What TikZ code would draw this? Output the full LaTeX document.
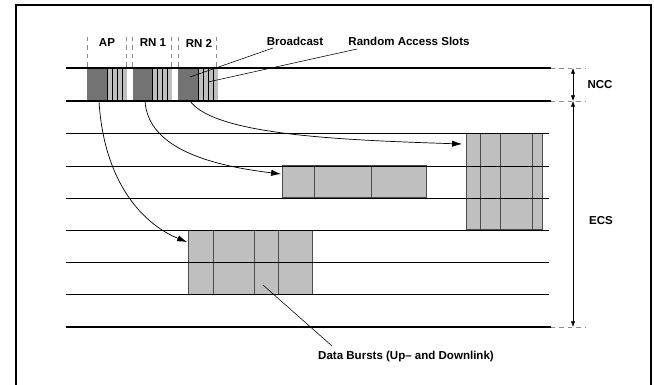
\documentclass[tikz,border=0pt]{standalone}
\usepackage{fontspec}
\setmainfont{Liberation Sans}
\usetikzlibrary{arrows.meta}
\colorlet{slot dark}{black!55}
\colorlet{slot light}{black!25}
\colorlet{burst area}{black!25}
\colorlet{burst edge}{black!70}
\def\ncctop{68}
\def\nccbot{101}
\def\ecsbot{327}
\tikzset{
  label/.style={font=\fontsize{8.2}{10}\selectfont\bfseries, inner sep=1pt},
  thickline/.style={line width=1.6pt},
  thinline/.style={line width=0.6pt},
  extension/.style={dashed, draw=black!45, line width=0.4pt},
  burst/.style={fill=burst area, draw=burst edge, line width=0.6pt},
  hop/.style={-{Latex[length=7pt,width=4.5pt]}, line width=0.5pt},
  span/.style={{Latex[length=4pt,width=3pt]}-{Latex[length=4pt,width=3pt]}, line width=0.4pt},
  leader/.style={line width=0.4pt}
}

\begin{document}
\begin{tikzpicture}[x=0.025cm, y=-0.025cm]
    \useasboundingbox (0,0) rectangle (654,384);
    \draw[line width=0.8pt] (16,390) |- (651,5) -- (651,390);
    % slot areas in the NCC
    \foreach \name/\xa/\xb in {ap/87/107, rnone/133/152, rntwo/178/198} {
      \fill[slot light] (\xb,\ncctop) rectangle ++(20,33);
      \foreach \k in {5,10,15} \draw[line width=0.5pt] (\xb+\k,\ncctop) -- ++(0,33);
      \fill[slot dark] (\xa,\ncctop) rectangle (\xb,\nccbot);
      \draw[line width=0.6pt] (\xb,\ncctop) -- (\xb,\nccbot);
      \coordinate (\name) at (\xa+12,\nccbot);
    }
    \foreach \x in {87,126,132,171,178,216} \draw[extension] (\x,37) -- (\x,\ncctop);
    \node[label] (aplabel) at (107,43) {AP};
    \node[label] (rnonelabel) at (153,43) {RN 1};
    \node[label] (rntwolabel) at (199,43) {RN 2};
    % data bursts in the ECS
    \fill[burst] (466,133) rectangle (542,229);
    \foreach \x in {480,500,532} \draw[burst edge, thinline] (\x,133) -- (\x,229);
    \fill[burst] (282,165) rectangle (426,197);
    \foreach \x in {314,371} \draw[burst edge, thinline] (\x,165) -- (\x,197);
    \fill[burst] (188,230) rectangle (312,294);
    \foreach \x in {213,254,278} \draw[burst edge, thinline] (\x,230) -- (\x,294);
    \draw[burst edge, thinline] (466,133) -- (466,229) (542,133) -- (542,229)
      (282,165) -- (282,197) (426,165) -- (426,197) (188,230) -- (188,294) (312,230) -- (312,294);
    % frame lines
    \foreach \y in {\ncctop,\nccbot,\ecsbot} {
      \draw[thickline] (66,\y) -- (551,\y);
      \draw[extension] (551,\y) -- (585,\y);
    }
    \foreach \y in {133,166,198,230,262,294} \draw[thinline] (66,\y) -- (549,\y);
    \draw[span] (573,\ncctop) -- (573,\nccbot);
    \draw[span] (573,\nccbot) -- (573,\ecsbot);
    \node[label] (ncc) at (600,85) {NCC};
    \node[label] (ecs) at (601,221) {ECS};
    % hops from the broadcasts to the bursts
    \coordinate (burstA) at (462,144);
    \coordinate (burstB) at (281,174);
    \coordinate (burstC) at (187,242);
    \draw[hop] (ap) .. controls (104,185) and (145,225) .. (burstC);
    \draw[hop] (rnone) .. controls (148,150) and (215,166) .. (burstB);
    \draw[hop] (rntwo) .. controls (215,135) and (340,140) .. (burstA);
    % callouts
    \node[label] (bcast) at (295,41) {Broadcast};
    \node[label] (raslots) at (409,41) {Random Access Slots};
    \node[label] (databursts) at (406,357) {Data Bursts (Up-- and Downlink)};
    \coordinate (bcastpt) at (190,77);
    \coordinate (raspt) at (208,82);
    \coordinate (burstpt) at (263,285);
    \draw[leader] (273,48) -- (bcastpt);
    \draw[leader] (357,49) -- (raspt);
    \draw[leader] (332,346) -- (burstpt);
\end{tikzpicture}
\end{document}
